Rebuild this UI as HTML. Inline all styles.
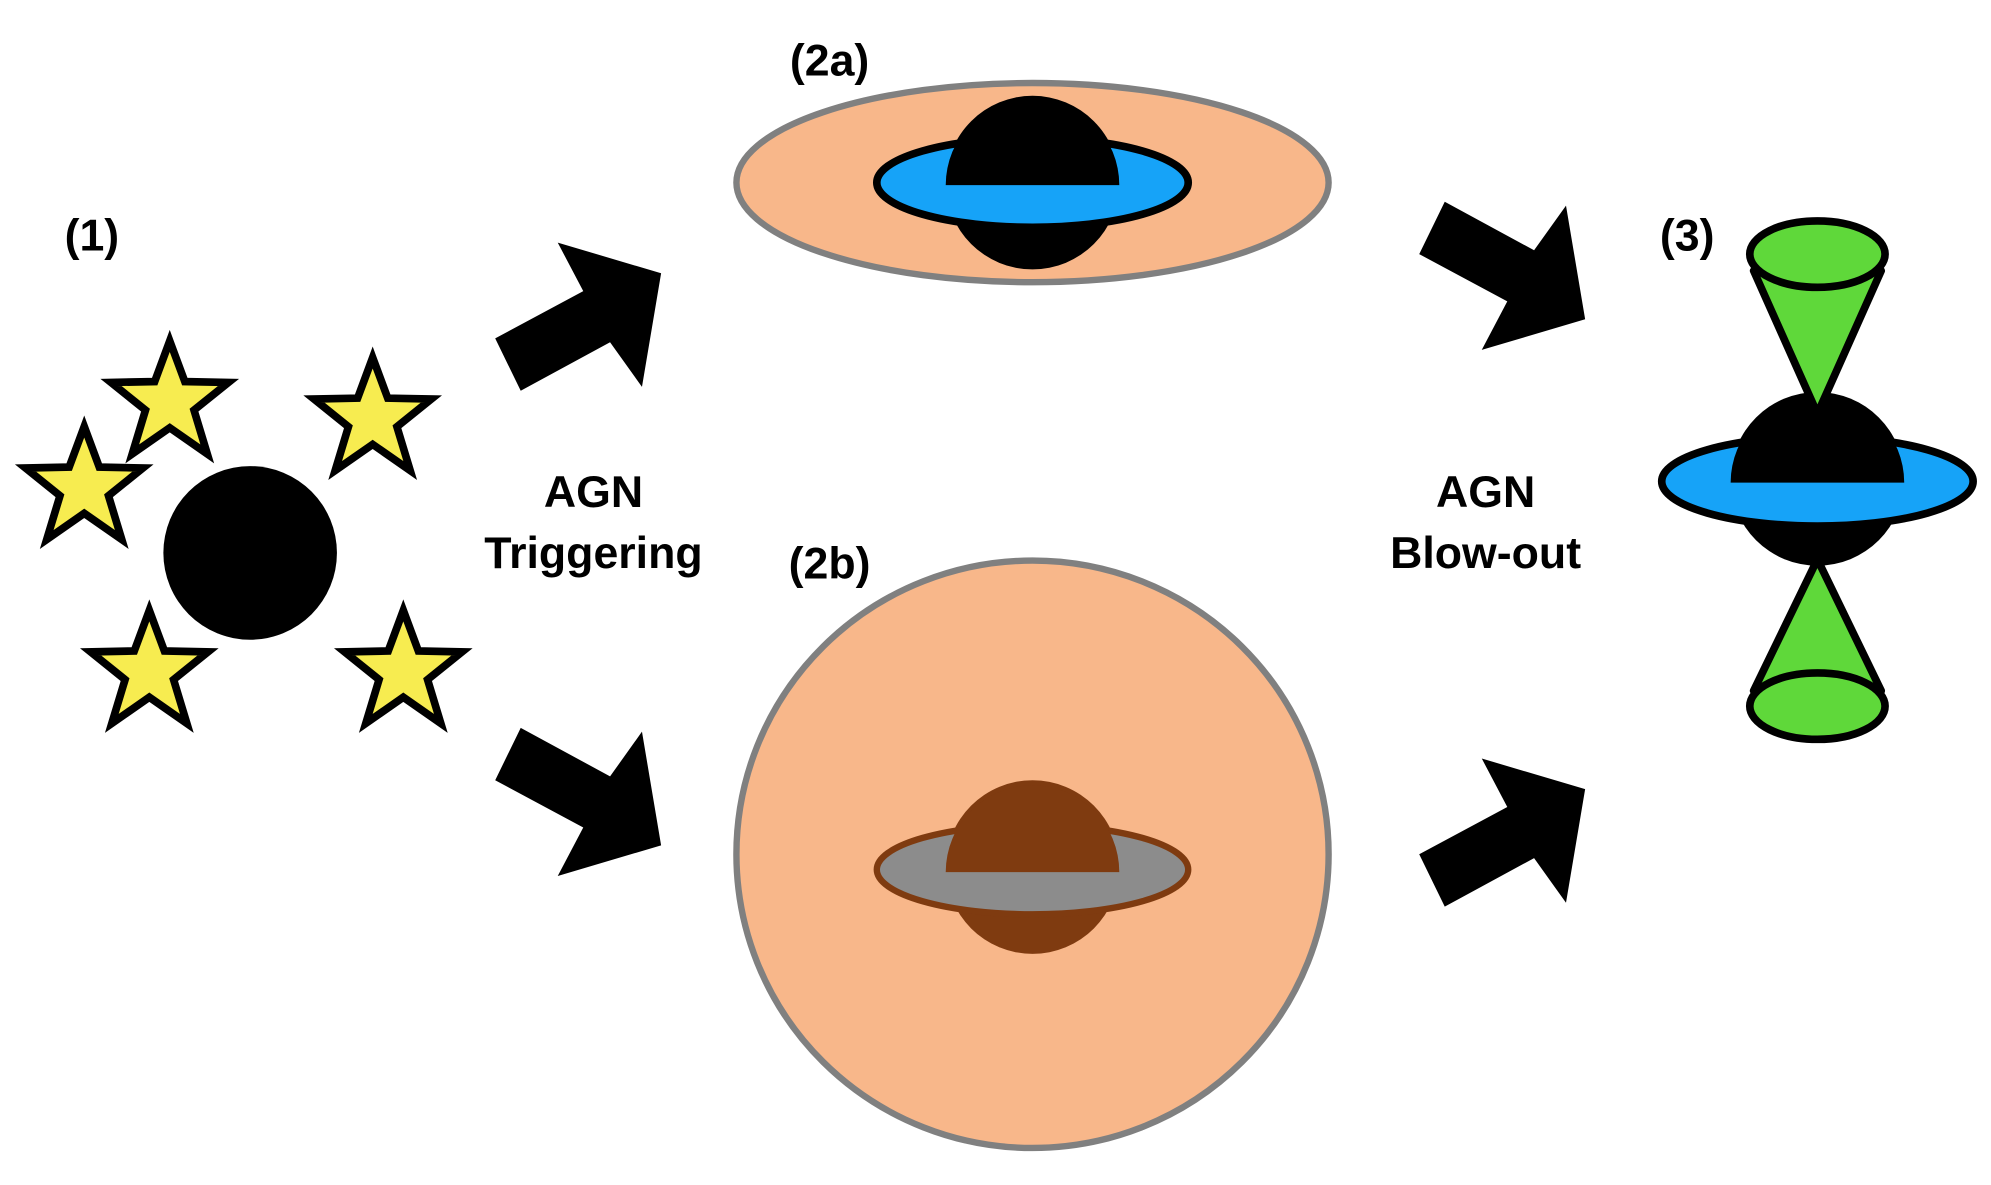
<!DOCTYPE html>
<html><head><meta charset="utf-8"><style>html,body{margin:0;padding:0;background:#fff}svg{display:block}</style></head>
<body>
<svg width="1991" height="1185" viewBox="0 0 1560 928" preserveAspectRatio="none" xmlns="http://www.w3.org/2000/svg">
<defs>
<polygon id="st" points="0,-48 11.8,-16.2 46,-15.5 19,6.2 29.4,40.5 0,20 -29.4,40.5 -19,6.2 -46,-15.5 -11.8,-16.2" fill="#f7ec50" stroke="#000" stroke-width="6" stroke-linejoin="miter"/>
</defs>
<g font-family="Liberation Sans, sans-serif" font-weight="bold" font-size="35" fill="#000" text-anchor="middle">
<text x="72" y="196">(1)</text>
<text x="650" y="59">(2a)</text>
<text x="650" y="453">(2b)</text>
<text x="1322" y="196">(3)</text>
<text x="465" y="397">AGN</text>
<text x="465" y="445">Triggering</text>
<text x="1164" y="397">AGN</text>
<text x="1164" y="445">Blow-out</text>
</g>
<circle cx="196" cy="433" r="68" fill="#000"/>
<use href="#st" x="133" y="315"/>
<use href="#st" x="292" y="328"/>
<use href="#st" x="66" y="382"/>
<use href="#st" x="117" y="526"/>
<use href="#st" x="316" y="526"/>
<g fill="#000">
<polygon points="388,265 457,228 437,190 518,214 503,303 478,268 408,306"/>
<polygon points="388,611 457,648 437,686 518,662 503,573 478,608 408,570"/>
<polygon points="1112,199 1181,236 1161,274 1242,250 1227,161 1202,196 1132,158"/>
<polygon points="1112,669 1181,632 1161,594 1242,618 1227,707 1202,672 1132,710"/>
</g>
<ellipse cx="809" cy="143" rx="232" ry="78" fill="#f8b78a" stroke="#808080" stroke-width="5"/>
<circle cx="809" cy="143" r="68" fill="#000"/>
<ellipse cx="809" cy="143" rx="122" ry="35" fill="#16a3f8" stroke="#000" stroke-width="6"/>
<path d="M741,145 A68,68 0 0 1 877,145 Z" fill="#000"/>
<ellipse cx="809" cy="669" rx="232" ry="230" fill="#f8b78a" stroke="#808080" stroke-width="5"/>
<circle cx="809" cy="679" r="68" fill="#7f3b10"/>
<ellipse cx="809" cy="681" rx="122" ry="35" fill="#8c8c8c" stroke="#7f3b10" stroke-width="5"/>
<path d="M741,683 A68,68 0 0 1 877,683 Z" fill="#7f3b10"/>
<circle cx="1424" cy="375" r="68" fill="#000"/>
<ellipse cx="1424" cy="377" rx="122" ry="35" fill="#16a3f8" stroke="#000" stroke-width="6"/>
<path d="M1356,378 A68,68 0 0 1 1492,378 Z" fill="#000"/>
<polygon points="1374,212 1474,212 1424,324" fill="#5fd83a" stroke="#000" stroke-width="6" stroke-linejoin="round"/>
<ellipse cx="1424" cy="199" rx="53" ry="26" fill="#5fd83a" stroke="#000" stroke-width="6"/>
<polygon points="1374,541 1474,541 1424,438" fill="#5fd83a" stroke="#000" stroke-width="6" stroke-linejoin="round"/>
<ellipse cx="1424" cy="553" rx="53" ry="26" fill="#5fd83a" stroke="#000" stroke-width="6"/>
</svg>
</body></html>
